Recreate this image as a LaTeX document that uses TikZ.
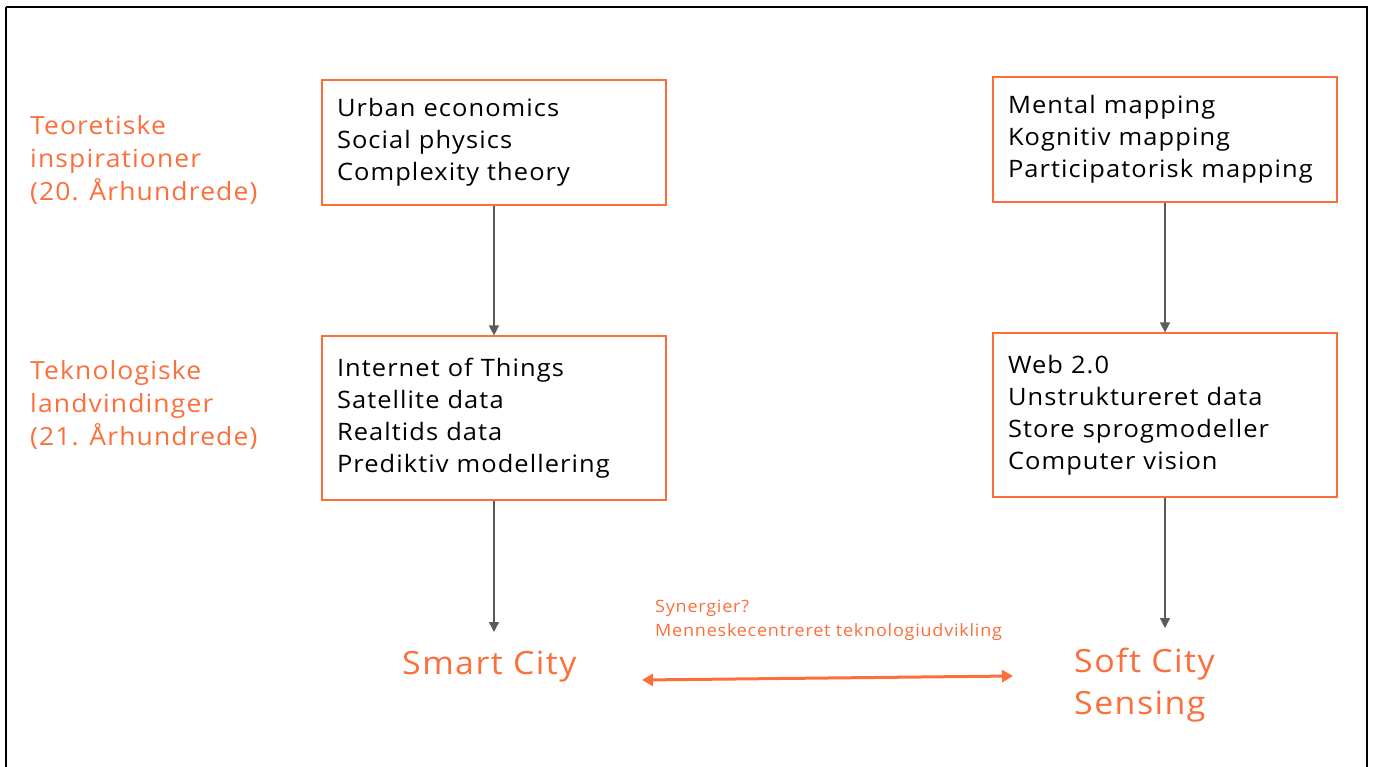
\documentclass[tikz,border=0pt]{standalone}
\usepackage{fontspec}
\setmainfont{Open Sans}[FakeStretch=1.06, LetterSpace=4.5]
\usetikzlibrary{arrows.meta}
\definecolor{accent}{RGB}{252,110,58}
\definecolor{arrowgray}{RGB}{90,90,90}
\tikzset{
    itembox/.style = {draw=accent, line width=1.2pt, minimum width=344pt, inner xsep=15pt, text width=314pt, align=left, font=\fontsize{24}{32}\selectfont},
    flowarrow/.style = {arrowgray, line width=1.3pt, -{Triangle[length=10pt,width=10pt]}},
    sidelabel/.style = {anchor=west, inner sep=0pt, align=left, text=accent, font=\fontsize{25}{33}\selectfont},
    citylabel/.style = {anchor=west, inner sep=0pt, align=left, text=accent, font=\fontsize{32}{42}\selectfont}
}
\begin{document}
\begin{tikzpicture}[x=1pt, y=-1pt]
        \useasboundingbox (0,0) rectangle (1375,767);
        \draw[line width=2.5pt] (6,7) -- (6,775) (6,7) -- (1367,7) -- (1367,775);

        \node at (30,160) [sidelabel] {Teoretiske\\inspirationer\\(20. Århundrede)};
        \node at (30,405) [sidelabel] {Teknologiske\\landvindinger\\(21. Århundrede)};

        \node (theoryL) at (494,142.5) [itembox, minimum height=125pt] {Urban economics\\Social physics\\Complexity theory};
        \node (techL) at (494,418) [itembox, minimum height=164pt] {Internet of Things\\Satellite data\\Realtids data\\Prediktiv modellering};
        \node (theoryR) at (1165,139.5) [itembox, minimum height=125pt] {Mental mapping\\Kognitiv mapping\\Participatorisk mapping};
        \node (techR) at (1165,415) [itembox, minimum height=164pt] {Web 2.0\\Unstruktureret data\\Store sprogmodeller\\Computer vision};

        \node (smart) at (402,667) [citylabel] {Smart City};
        \node (soft) at (1074,685) [citylabel] {Soft City\\Sensing};

        \draw[flowarrow] (theoryL) -- (techL);
        \draw[flowarrow] (theoryR) -- (techR);
        \draw[flowarrow] (techL.south) -- (494,632);
        \draw[flowarrow] (techR.south) -- (1165,628);

        \coordinate (synL) at (642,680);
        \coordinate (synR) at (1013,676);
        \draw[accent, line width=3pt, {Triangle[length=11pt,width=12pt]}-{Triangle[length=11pt,width=12pt]}] (synL) -- (synR);
        \node (synergy) at (655,620) [anchor=west, inner sep=0pt, align=left, text=accent, font=\fontsize{17}{24}\selectfont] {Synergier?\\Menneskecentreret teknologiudvikling};

    \end{tikzpicture}
\end{document}
